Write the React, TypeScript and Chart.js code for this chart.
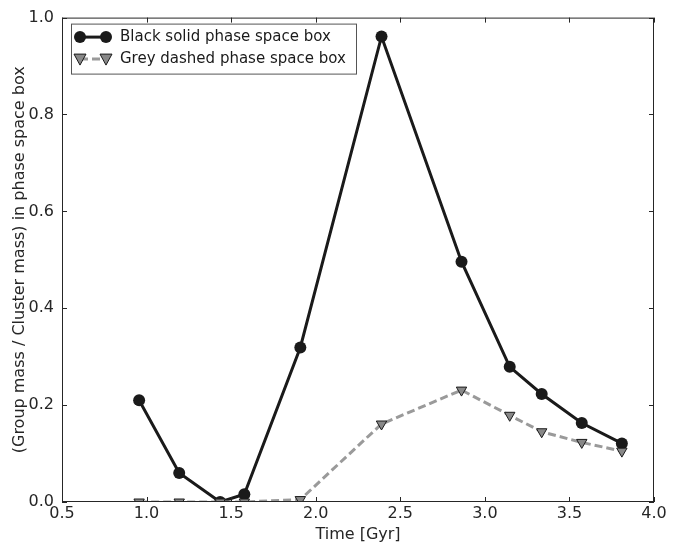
import React, { useEffect, useRef } from "react";
import { Chart, registerables } from "chart.js";

Chart.register(...registerables);

const times = [0.956, 1.193, 1.435, 1.578, 1.909, 2.389, 2.862, 3.147, 3.336, 3.573, 3.81];
const blackSolid = [0.21, 0.06, 0.0, 0.016, 0.319, 0.961, 0.496, 0.279, 0.223, 0.163, 0.121];
const greyDashed = [0.0, 0.0, 0.0, 0.0, 0.005, 0.161, 0.231, 0.179, 0.145, 0.123, 0.105];
const xTicks = [0.5, 1.0, 1.5, 2.0, 2.5, 3.0, 3.5, 4.0];
const yTicks = [0.0, 0.2, 0.4, 0.6, 0.8, 1.0];
const legendLabels = ["Black solid phase space box", "Grey dashed phase space box"];

const FONT = "'DejaVu Sans', sans-serif";
const TEXT = "#262626";

const framePlugin = {
  id: "frame",
  afterDraw(chart: any) {
    const { ctx, chartArea: a, scales } = chart;
    const x = scales.x;
    const y = scales.y;
    ctx.save();
    ctx.strokeStyle = TEXT;
    ctx.lineWidth = 1;
    ctx.strokeRect(a.left + 0.5, a.top + 0.5, a.right - a.left - 1, a.bottom - a.top - 1);
    const L = 5;
    ctx.beginPath();
    for (const v of xTicks) {
      const px = Math.round(x.getPixelForValue(v)) + 0.5;
      ctx.moveTo(px, a.bottom);
      ctx.lineTo(px, a.bottom - L);
      ctx.moveTo(px, a.top);
      ctx.lineTo(px, a.top + L);
    }
    for (const v of yTicks) {
      const py = Math.round(y.getPixelForValue(v)) + 0.5;
      ctx.moveTo(a.left, py);
      ctx.lineTo(a.left + L, py);
      ctx.moveTo(a.right, py);
      ctx.lineTo(a.right - L, py);
    }
    ctx.stroke();

    // legend
    const bx = a.left + 9.5;
    const by = a.top + 6.5;
    const bw = 285;
    const bh = 50;
    ctx.fillStyle = "#ffffff";
    ctx.fillRect(bx, by, bw, bh);
    ctx.strokeStyle = "#555";
    ctx.lineWidth = 1;
    ctx.strokeRect(bx, by, bw, bh);
    const rows = [by + 13, by + 35];
    const m1 = a.left + 18;
    const m2 = a.left + 44;
    ctx.strokeStyle = "#1a1a1a";
    ctx.lineWidth = 3;
    ctx.setLineDash([]);
    ctx.beginPath();
    ctx.moveTo(m1, rows[0]);
    ctx.lineTo(m2, rows[0]);
    ctx.stroke();
    ctx.fillStyle = "#1a1a1a";
    for (const mx of [m1, m2]) {
      ctx.beginPath();
      ctx.arc(mx, rows[0], 6, 0, Math.PI * 2);
      ctx.fill();
    }
    ctx.strokeStyle = "#9a9a9a";
    ctx.lineWidth = 3;
    ctx.setLineDash([8, 4]);
    ctx.beginPath();
    ctx.moveTo(m1, rows[1]);
    ctx.lineTo(m2, rows[1]);
    ctx.stroke();
    ctx.setLineDash([]);
    for (const mx of [m1, m2]) {
      const cy = rows[1];
      ctx.beginPath();
      ctx.moveTo(mx - 6, cy - 5);
      ctx.lineTo(mx + 6, cy - 5);
      ctx.lineTo(mx, cy + 6);
      ctx.closePath();
      ctx.fillStyle = "#888888";
      ctx.fill();
      ctx.strokeStyle = "#1a1a1a";
      ctx.lineWidth = 1;
      ctx.stroke();
    }
    ctx.fillStyle = "#1a1a1a";
    ctx.font = `15px ${FONT}`;
    ctx.textBaseline = "middle";
    ctx.textAlign = "left";
    ctx.fillText(legendLabels[0], a.left + 58, rows[0]);
    ctx.fillText(legendLabels[1], a.left + 58, rows[1]);
    ctx.restore();
  },
};

export default function App() {
  const ref = useRef<HTMLCanvasElement | null>(null);
  useEffect(() => {
    if (!ref.current) return;
    const chart = new Chart(ref.current, {
      type: "scatter",
      data: {
        datasets: [
          {
            label: legendLabels[1],
            data: times.map((t, i) => ({ x: t, y: greyDashed[i] })),
            showLine: true,
            borderColor: "#9a9a9a",
            borderWidth: 3,
            borderDash: [8, 4],
            pointStyle: "triangle",
            rotation: 180,
            pointRadius: 6,
            pointBackgroundColor: "#888888",
            pointBorderColor: "#1a1a1a",
            pointBorderWidth: 1,
            clip: 0,
            order: 0,
          },
          {
            label: legendLabels[0],
            data: times.map((t, i) => ({ x: t, y: blackSolid[i] })),
            showLine: true,
            borderColor: "#1a1a1a",
            borderWidth: 3,
            pointStyle: "circle",
            pointRadius: 6,
            pointBackgroundColor: "#1a1a1a",
            pointBorderColor: "#1a1a1a",
            pointBorderWidth: 0,
            clip: 0,
            order: 1,
          },
        ],
      },
      options: {
        responsive: false,
        animation: false,
        layout: { padding: { top: 16, right: 31, left: 0, bottom: 0 } },
        plugins: { legend: { display: false }, tooltip: { enabled: false } },
        scales: {
          x: {
            type: "linear",
            min: 0.5,
            max: 4.0,
            afterBuildTicks: (s: any) => {
              s.ticks = xTicks.map((v) => ({ value: v }));
            },
            afterFit: (s: any) => {
              s.height = 42;
            },
            grid: { display: false, drawTicks: false },
            border: { display: false },
            ticks: {
              padding: 2,
              color: TEXT,
              font: { family: FONT, size: 16 },
              callback: (v: any) => Number(v).toFixed(1),
            },
            title: {
              display: true,
              text: "Time [Gyr]",
              color: TEXT,
              font: { family: FONT, size: 16 },
              padding: { top: 0, bottom: 0 },
            },
          },
          y: {
            type: "linear",
            min: 0,
            max: 1.0,
            afterBuildTicks: (s: any) => {
              s.ticks = yTicks.map((v) => ({ value: v }));
            },
            afterFit: (s: any) => {
              s.width = 62;
            },
            grid: { display: false, drawTicks: false },
            border: { display: false },
            ticks: {
              padding: 8,
              color: TEXT,
              font: { family: FONT, size: 16 },
              callback: (v: any) => Number(v).toFixed(1),
            },
            title: {
              display: true,
              text: "(Group mass / Cluster mass) in phase space box",
              color: TEXT,
              font: { family: FONT, size: 16 },
              padding: { top: 10, bottom: 0 },
            },
          },
        },
      },
      plugins: [framePlugin],
    });
    return () => chart.destroy();
  }, []);
  return (
    <div style={{ position: "absolute", left: 0, top: 0, width: 685, height: 544, background: "#fff" }}>
      <canvas ref={ref} width={685} height={544} />
    </div>
  );
}
